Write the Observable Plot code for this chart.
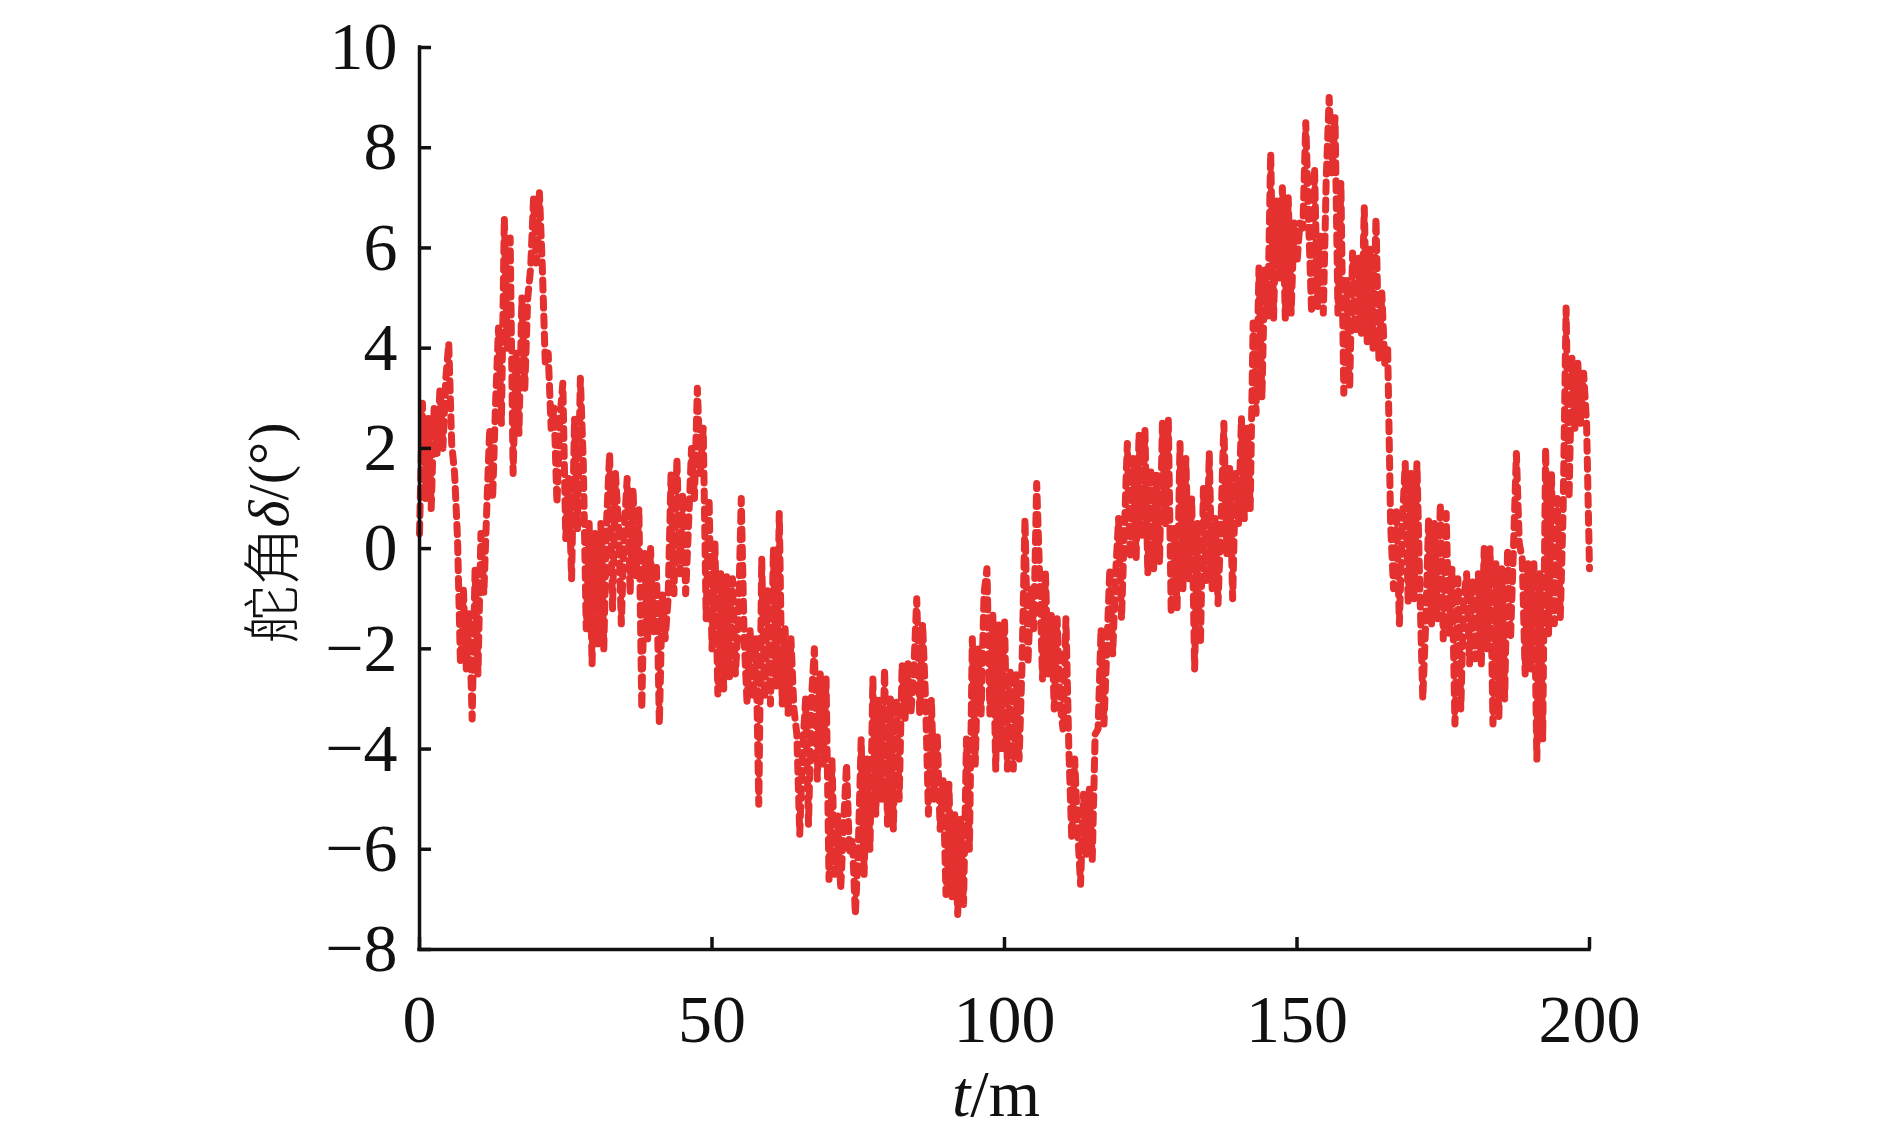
<!DOCTYPE html>
<html>
<head>
<meta charset="utf-8">
<script src="https://cdn.jsdelivr.net/npm/d3@7"></script>
<script src="https://cdn.jsdelivr.net/npm/@observablehq/plot@0.6"></script>
<style>
  html, body { margin: 0; padding: 0; background: #ffffff; }
  #chart svg { display: block; }
</style>
</head>
<body>
<div id="chart"></div>
<script>
const step = 0.5;
const seg0 = [ // t 0 – 49.5
  0.3, 2.9, 1.0, 2.6, 0.8, 2.8, 1.9, 3.2, 2.0, 3.4,
  4.1, 2.1, 1.5, 0.2, -2.3, -0.8, -2.4, -1.3, -3.4, -0.4,
  -2.5, 0.3, -0.9, 0.8, 2.4, 1.0, 2.9, 4.4, 2.5, 6.6,
  4.0, 6.2, 1.5, 3.9, 2.3, 5.0, 3.2, 5.0, 5.6, 7.0,
  5.7, 7.1, 5.6, 3.7, 3.9, 2.4, 2.8, 0.9, 2.6, 3.3,
  0.2, 1.4, -0.6, 2.6, 0.4, 3.4, 1.7, -1.6, 0.5, -2.3,
  0.3, -1.9, 0.5, -2.0, 0.6, 1.9, -1.2, 1.5, 0.5, -1.5,
  0.4, 1.4, -0.9, 1.2, -0.6, 0.8, -3.2, -0.1, -1.8, 0.0,
  -1.7, -0.3, -3.5, -0.9, -1.8, -1.0, 1.5, -0.9, 1.8, -0.5,
  1.1, -0.9, 0.5, 2.0, 1.0, 3.2, 1.5, 2.4, -1.4, 1.0
];
const seg1 = [ // t 50 – 99.5
  -2.0, 0.1, -2.9, -0.5, -2.8, -0.5, -2.6, -0.6, -2.5, -1.5,
  1.0, -1.8, -3.1, -1.6, -3.0, -1.8, -5.1, -0.2, -3.0, -0.8,
  -3.1, 0.0, -2.8, 0.7, -3.1, -1.6, -3.3, -1.8, -3.2, -3.7,
  -5.7, -4.0, -3.0, -5.5, -3.0, -2.0, -4.6, -2.5, -4.3, -2.6,
  -6.6, -4.2, -6.5, -5.3, -6.8, -5.5, -4.3, -6.1, -5.8, -7.3,
  -6.0, -3.8, -6.5, -4.2, -6.0, -2.6, -5.3, -3.0, -5.0, -2.4,
  -5.5, -3.0, -5.6, -3.0, -5.0, -2.3, -3.4, -2.3, -3.3, -2.4,
  -1.0, -3.3, -1.5, -3.0, -5.3, -3.0, -5.0, -3.7, -5.6, -4.6,
  -6.9, -4.7, -7.0, -5.3, -7.3, -5.4, -7.1, -3.8, -6.0, -1.8,
  -4.3, -2.0, -3.3, -0.9, -0.4, -3.3, -1.3, -4.4, -1.5, -4.0
];
const seg2 = [ // t 100 – 149.5
  -1.4, -4.4, -2.4, -4.4, -2.5, -4.2, -2.3, 0.6, -2.3, -0.8,
  -1.6, 1.3, -0.5, -2.6, -0.5, -2.5, -1.3, -3.2, -1.4, -3.1,
  -3.6, -1.4, -4.0, -5.8, -4.2, -5.6, -6.7, -4.9, -6.1, -4.8,
  -6.2, -3.7, -3.6, -1.6, -3.5, -2.0, -0.4, -2.1, -0.5, 0.6,
  -1.4, 0.4, 2.1, -0.2, 1.8, -0.2, 2.3, 0.2, 2.4, -0.5,
  1.6, -0.4, 1.5, -0.3, 2.5, 0.5, 2.6, -1.3, 0.4, -1.2,
  2.1, -0.8, 1.8, -0.6, 1.0, -2.4, 0.5, -1.9, 1.2, -0.7,
  1.9, -0.8, 0.6, -1.1, 0.5, 2.5, -0.1, 1.6, -1.0, 1.5,
  0.5, 2.6, 0.6, 2.4, 0.8, 4.5, 2.7, 5.6, 3.0, 5.6,
  4.6, 7.9, 4.6, 7.0, 5.4, 7.2, 4.6, 7.0, 4.7, 6.5
];
const seg3 = [ // t 150 – 200
  5.7, 6.5, 6.4, 8.5, 6.5, 4.7, 7.6, 4.8, 6.3, 4.7,
  7.4, 9.0, 7.5, 8.6, 4.7, 7.3, 3.1, 5.4, 3.2, 5.9,
  4.3, 5.8, 4.3, 6.8, 4.1, 6.0, 4.0, 6.6, 3.8, 5.1,
  3.7, 4.0, 0.5, -0.8, 0.8, -1.5, 0.5, 1.7, -1.1, 1.5,
  -1.0, 1.7, -0.8, -3.0, -1.5, 0.6, -1.5, 0.5, -1.4, 0.9,
  -1.8, 0.7, -1.7, -0.4, -3.5, -0.6, -3.2, -1.0, -0.5, -2.3,
  -0.6, -2.2, -0.5, -2.3, 0.0, -2.0, 0.0, -3.5, -0.3, -3.4,
  -0.4, -3.0, 0.0, -1.8, 0.0, 1.9, 0.1, -0.2, -2.5, -0.3,
  -2.4, -0.3, -4.2, -0.5, -3.8, 2.0, -1.7, 1.5, -1.5, 1.0,
  -1.4, 0.8, 4.8, 1.0, 3.8, 2.4, 3.7, 2.5, 3.5, 2.5,
  -0.4
];
const xTicks = [0, 50, 100, 150, 200];
const yTicks = [-8, -6, -4, -2, 0, 2, 4, 6, 8, 10];

const rudder = [...seg0, ...seg1, ...seg2, ...seg3];
const data = rudder.map((v, i) => ({t: i * step, v}));

const serif = "'Liberation Serif', 'Times New Roman', 'DejaVu Serif', serif";

const plot = Plot.plot({
  width: 1890,
  height: 1134,
  marginLeft: 419,
  marginRight: 301,
  marginTop: 47,
  marginBottom: 185,
  style: {fontFamily: serif, fontSize: "68px", color: "#111111", background: "#ffffff", overflow: "visible"},
  x: {domain: [0, 200]},
  y: {domain: [-8, 10]},
  marks: [
    Plot.lineY(data, {
      x: "t", y: "v",
      stroke: "#e53030",
      strokeWidth: 7,
      strokeDasharray: "10,8",
      strokeLinecap: "round",
      strokeLinejoin: "round"
    }),
    Plot.axisX({ticks: xTicks, tickSize: -12, tickPadding: 56, strokeWidth: 3.5, label: null}),
    Plot.axisY({ticks: yTicks, tickSize: -12, tickPadding: 34, strokeWidth: 3.5, label: null}),
    Plot.ruleX([0], {stroke: "#111111", strokeWidth: 3.5, strokeLinecap: "square"}),
    Plot.ruleY([-8], {stroke: "#111111", strokeWidth: 3.5, strokeLinecap: "square"})
  ]
});

const svg = d3.select(plot);

// y-axis title: 舵角δ/(°)
const yl = svg.append("text")
  .attr("transform", "translate(268,533) rotate(-90)")
  .attr("text-anchor", "middle")
  .attr("dominant-baseline", "central")
  .attr("fill", "#111111")
  .style("font-size", "58px");
yl.append("tspan").attr("font-family", "'Noto Sans CJK SC', sans-serif").attr("font-weight", "300").text("舵角");
yl.append("tspan").attr("font-family", serif).attr("font-style", "italic").text("δ");
yl.append("tspan").attr("font-family", serif).text("/(°)");

// x-axis title: t/m (single text element)
const xl = svg.append("text")
  .attr("x", 996)
  .attr("y", 1116)
  .attr("text-anchor", "middle")
  .attr("fill", "#111111")
  .style("font-size", "66px")
  .attr("font-family", serif);
xl.append("tspan").attr("font-style", "italic").text("t");
xl.append("tspan").text("/m");

document.getElementById("chart").appendChild(plot);
</script>
</body>
</html>
